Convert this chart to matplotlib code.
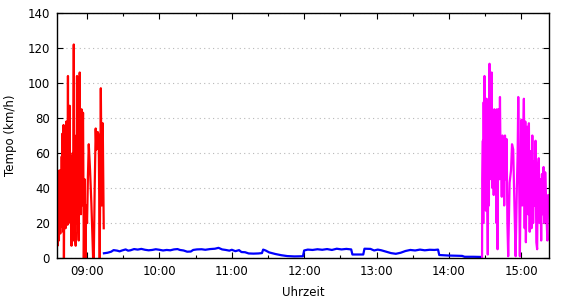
import matplotlib
matplotlib.use('Agg')
import matplotlib.pyplot as plt
import matplotlib.dates as mdates
import pandas as pd

# speed samples (time of day, km/h)
red_time = ['08:35:00', '08:35:10', '08:35:20', '08:35:30', '08:35:40', '08:35:50', '08:36:00',
            '08:36:10', '08:36:20', '08:36:30', '08:36:40', '08:36:50', '08:37:00', '08:37:10',
            '08:37:20', '08:37:30', '08:37:40', '08:37:50', '08:38:00', '08:38:15', '08:38:30',
            '08:38:45', '08:39:00', '08:39:15', '08:39:30', '08:39:45', '08:40:00', '08:40:15',
            '08:40:30', '08:40:50', '08:41:10', '08:41:25', '08:41:40', '08:41:55', '08:42:10',
            '08:42:30', '08:42:50', '08:43:05', '08:43:20', '08:43:35', '08:43:50', '08:44:10',
            '08:44:25', '08:44:40', '08:44:55', '08:45:10', '08:45:35', '08:45:50', '08:46:05',
            '08:46:20', '08:46:35', '08:47:05', '08:47:20', '08:47:35', '08:47:50', '08:48:05',
            '08:48:25', '08:49:00', '08:49:15', '08:49:30', '08:49:45', '08:50:00', '08:50:35',
            '08:50:50', '08:51:05', '08:51:20', '08:51:40', '08:51:55', '08:52:10', '08:52:25',
            '08:52:40', '08:53:05', '08:53:20', '08:53:35', '08:53:55', '08:54:10', '08:54:25',
            '08:54:40', '08:54:55', '08:55:25', '08:55:40', '08:55:55', '08:56:10', '08:56:40',
            '08:57:00', '08:57:20', '08:58:00', '08:58:40', '08:59:20', '09:00:00', '09:00:40',
            '09:01:25', '09:02:30', '09:03:35', '09:04:20', '09:05:00', '09:05:35', '09:06:20',
            '09:07:10', '09:07:45', '09:08:20', '09:08:50', '09:09:40', '09:10:30', '09:11:25',
            '09:12:10', '09:13:00', '09:13:50']
red_kmh = [25, 8, 35, 7, 30, 12, 48,
           15, 27, 45, 10, 35, 50, 16,
           42, 20, 40, 14, 50, 20, 45,
           22, 58, 18, 71, 25, 60, 15,
           76, 0, 45, 20, 38, 57, 17,
           65, 78, 22, 50, 60, 19, 104,
           35, 55, 62, 25, 87, 40, 20,
           58, 25, 7, 45, 30, 15, 60,
           10, 122, 40, 20, 70, 15, 7,
           55, 30, 20, 104, 30, 55, 65,
           20, 10, 45, 60, 106, 35, 55,
           70, 25, 85, 30, 50, 60, 83,
           40, 0, 45, 0, 30, 20, 45,
           65, 50, 31, 15, 0, 0, 40,
           74, 62, 63, 72, 70, 0, 97,
           30, 77, 17]

blue_time = ['09:14', '09:17', '09:20', '09:22', '09:25', '09:27', '09:29', '09:32', '09:34',
             '09:36', '09:39', '09:42', '09:45', '09:48', '09:51', '09:54', '09:57', '10:00',
             '10:03', '10:06', '10:09', '10:12', '10:15', '10:17', '10:20', '10:23', '10:26',
             '10:28', '10:31', '10:35', '10:38', '10:42', '10:46', '10:49', '10:52', '10:55',
             '10:58', '11:00', '11:03', '11:06', '11:08', '11:11', '11:14', '11:18', '11:22',
             '11:25', '11:26', '11:28', '11:31', '11:36', '11:41', '11:46', '11:52', '11:59',
             '12:00', '12:03', '12:07', '12:11', '12:15', '12:19', '12:23', '12:27', '12:31',
             '12:35', '12:39', '12:40', '12:49', '12:50', '12:55', '12:58', '13:01', '13:04',
             '13:08', '13:12', '13:16', '13:20', '13:24', '13:28', '13:32', '13:36', '13:40',
             '13:44', '13:48', '13:51', '13:52', '14:00', '14:06', '14:11', '14:13', '14:20',
             '14:27']
blue_kmh = [2.7, 3.0, 3.6, 4.5, 4.2, 3.8, 4.3, 4.9, 4.2,
            4.4, 5.1, 4.8, 5.2, 4.7, 4.4, 4.6, 5.0, 4.7,
            4.3, 4.6, 4.4, 4.9, 5.1, 4.6, 4.3, 3.6, 3.7,
            4.6, 4.9, 5.0, 4.7, 5.1, 5.3, 5.8, 4.9, 4.6,
            4.2, 4.7, 3.9, 4.5, 3.4, 3.3, 2.6, 2.5, 2.6,
            2.8, 4.8, 4.3, 3.2, 2.3, 1.6, 1.1, 0.9, 1.0,
            4.3, 4.8, 4.6, 5.0, 4.7, 5.1, 4.6, 5.3, 4.9,
            5.2, 4.9, 2.0, 2.0, 5.3, 5.2, 4.3, 4.8, 4.4,
            3.6, 2.8, 2.4, 3.0, 4.0, 4.6, 4.3, 4.8, 4.4,
            4.7, 4.6, 4.8, 1.7, 1.4, 1.3, 1.2, 0.7, 0.7,
            0.6]

mag_time = ['14:27:30', '14:27:40', '14:28:10', '14:28:30', '14:28:50', '14:29:10', '14:29:30',
            '14:29:50', '14:30:20', '14:30:45', '14:31:15', '14:31:45', '14:32:15', '14:32:40',
            '14:33:10', '14:33:40', '14:34:00', '14:34:30', '14:35:00', '14:35:30', '14:36:00',
            '14:36:40', '14:37:10', '14:37:40', '14:38:20', '14:38:50', '14:39:20', '14:39:50',
            '14:40:20', '14:40:50', '14:41:20', '14:41:50', '14:42:20', '14:42:50', '14:43:20',
            '14:43:50', '14:44:20', '14:44:50', '14:45:20', '14:45:50', '14:46:30', '14:47:10',
            '14:47:50', '14:48:30', '14:49:10', '14:50:20', '14:51:30', '14:52:20', '14:53:20',
            '14:54:20', '14:55:20', '14:56:20', '14:57:00', '14:57:30', '14:58:00', '14:58:50',
            '14:59:30', '15:00:10', '15:00:50', '15:01:30', '15:02:10', '15:02:50', '15:03:20',
            '15:03:50', '15:04:30', '15:05:00', '15:05:40', '15:06:20', '15:07:00', '15:07:30',
            '15:08:00', '15:08:30', '15:09:10', '15:09:50', '15:10:30', '15:11:10', '15:11:50',
            '15:12:30', '15:13:10', '15:13:50', '15:14:30', '15:15:10', '15:15:50', '15:16:30',
            '15:17:10', '15:17:50', '15:18:30', '15:19:10', '15:19:50', '15:20:30', '15:21:10',
            '15:21:40', '15:22:20', '15:23:00']
mag_kmh = [0, 45, 67, 20, 89, 30, 104,
           60, 89, 27, 91, 40, 2, 70,
           30, 111, 55, 99, 45, 106, 40,
           78, 36, 85, 50, 78, 20, 85,
           5, 60, 85, 45, 92, 55, 59,
           35, 70, 40, 62, 30, 70, 45,
           68, 20, 1, 43, 50, 65, 62,
           30, 1, 40, 60, 92, 63, 1,
           40, 79, 30, 63, 91, 17, 78,
           9, 60, 75, 25, 77, 15, 61,
           40, 17, 70, 20, 55, 30, 67,
           9, 5, 51, 57, 20, 45, 10,
           48, 25, 52, 20, 49, 35, 19,
           10, 36, 30]


def to_dt(times):
    return pd.to_datetime(['2020-01-01 ' + t for t in times])


plt.rcParams['font.family'] = ['DejaVu Sans']
plt.rcParams['font.size'] = 8.5

fig = plt.figure(figsize=(5.7, 3.0), dpi=100)
ax = fig.add_axes([0.1, 0.14, 0.8637, 0.8167])

ax.plot(to_dt(red_time), red_kmh, color='#ff0000', linewidth=1.6)
ax.plot(to_dt(blue_time), blue_kmh, color='#0000ff', linewidth=1.6)
ax.plot(to_dt(mag_time), mag_kmh, color='#ff00ff', linewidth=1.6)

ax.set_xlim(pd.Timestamp('2020-01-01 08:35:05'), pd.Timestamp('2020-01-01 15:23:15'))
ax.set_ylim(0, 140)
ax.set_yticks(range(0, 141, 20))
ax.xaxis.set_major_locator(mdates.HourLocator())
ax.xaxis.set_minor_locator(mdates.MinuteLocator(byminute=30))
ax.xaxis.set_major_formatter(mdates.DateFormatter('%H:%M'))

ax.yaxis.grid(True, color='#b8b8b8', linestyle=(0, (1, 3)), linewidth=0.8)
ax.tick_params(which='both', direction='in', top=True, right=True, colors='black')
ax.tick_params(which='major', length=4, width=0.8, pad=5)
ax.tick_params(which='minor', length=2, width=0.8)
for s in ax.spines.values():
    s.set_linewidth(1.0)

ax.set_xlabel('Uhrzeit', labelpad=6)
ax.set_ylabel('Tempo (km/h)', labelpad=8)

fig.savefig('out.png', dpi=100)
